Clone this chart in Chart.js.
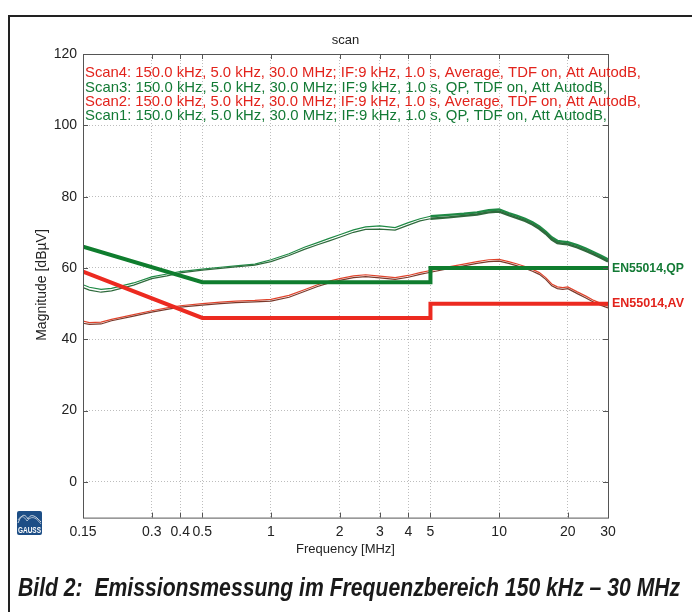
<!DOCTYPE html>
<html>
<head>
<meta charset="utf-8">
<script src="https://cdn.jsdelivr.net/npm/chart.js@4.4.1/dist/chart.umd.min.js"></script>
<style>
  html, body { margin: 0; padding: 0; background: #fff; }
  #wrap { position: relative; width: 692px; height: 612px; overflow: hidden; }
  #chart { position: absolute; left: 0; top: 0; }
  #frame { position: absolute; left: 8px; top: 15px; width: 720px; height: 640px;
           border-left: 2px solid #222; border-top: 2px solid #222; }
  #logo { position: absolute; left: 17px; top: 511px; width: 25px; height: 24px;
          background: #1d4e86; border-radius: 2px; overflow: hidden; }
  #logo span { position: absolute; left: -4px; right: -4px; bottom: 0px; text-align: center;
               font: bold 9px "Liberation Sans", sans-serif; color: #fff; transform: scaleX(0.72); }
  #caption { position: absolute; left: 18px; top: 573px; white-space: nowrap; transform-origin: 0 0;
             font: italic bold 25px "Liberation Sans", Arial, sans-serif; color: #1a1a1a; }
</style>
</head>
<body>
<div id="wrap">
  <canvas id="chart" width="692" height="612"></canvas>
  <div id="frame"></div>
  <div id="logo">
    <svg width="25" height="14" viewBox="0 0 25 14">
      <path d="M1 12 C5 2, 8 3, 11 8 C13 4, 16 2, 24 11" stroke="#fff" stroke-width="0.8" fill="none"/>
      <path d="M1 9 C4 4, 7 5, 10 10 C14 5, 18 5, 24 13" stroke="#fff" stroke-width="0.6" fill="none"/>
    </svg>
    <span>GAUSS</span>
  </div>
  <div id="caption">Bild 2:&nbsp; Emissionsmessung im Frequenzbereich 150 kHz – 30 MHz</div>
</div>
<script>
// --- Données ---
const freqs = [0.15, 0.16, 0.18, 0.2, 0.25, 0.3, 0.35, 0.4, 0.5, 0.6, 0.7, 0.85, 1.0, 1.2, 1.4, 1.6, 1.8, 2.0,
               2.3, 2.6, 3.0, 3.5, 4.0, 4.5, 5.0, 6, 7, 8, 9, 10, 11, 12, 13, 14, 15, 16, 17, 18, 19, 20,
               22, 24, 26, 28, 30];

const scan1 = [54.5, 53.8, 53.2, 53.6, 55.2, 57.0, 57.8, 58.6, 59.4, 59.9, 60.3, 60.8, 61.8, 63.5, 65.2, 66.5, 67.6, 68.6,
               70.0, 70.8, 70.9, 70.6, 72.0, 73.2, 73.8, 74.2, 74.6, 75.0, 75.6, 75.8, 74.8, 74.0, 73.2, 72.2, 71.0, 69.6, 68.0, 67.0, 66.8, 66.6,
               65.8, 64.8, 63.8, 62.8, 61.8];
const scan3 = [55.3, 54.6, 54.0, 54.3, 55.8, 57.5, 58.3, 59.0, 59.7, 60.2, 60.6, 61.1, 62.3, 64.0, 65.8, 67.1, 68.3, 69.3,
               70.7, 71.5, 71.8, 71.3, 72.7, 73.8, 74.5, 74.9, 75.2, 75.6, 76.2, 76.4, 75.4, 74.6, 73.8, 72.8, 71.6, 70.2, 68.6, 67.6, 67.4, 67.2,
               66.4, 65.4, 64.4, 63.4, 62.4];
const scan2 = [44.5, 44.2, 44.3, 45.2, 46.5, 47.6, 48.4, 49.0, 49.6, 50.0, 50.3, 50.5, 50.7, 51.8, 53.4, 54.8, 55.8, 56.5,
               57.3, 57.6, 57.2, 56.8, 57.4, 58.2, 58.8, 59.8, 60.6, 61.3, 61.8, 61.9, 61.3, 60.6, 59.9, 59.1, 58.2, 56.8, 55.0, 54.2, 54.0, 54.2,
               52.8, 51.6, 50.4, 49.5, 48.8];
const scan4 = [45.1, 44.7, 44.8, 45.6, 46.9, 48.0, 48.8, 49.4, 50.0, 50.4, 50.7, 50.9, 51.2, 52.3, 53.9, 55.3, 56.3, 57.0,
               57.8, 58.1, 57.7, 57.3, 57.9, 58.7, 59.3, 60.3, 61.1, 61.8, 62.3, 62.4, 61.8, 61.1, 60.4, 59.6, 58.7, 57.3, 55.5, 54.7, 54.5, 54.7,
               53.3, 52.1, 50.9, 50.0, 49.3];

const limitFreqs = [0.15, 0.5, 5, 5, 30];
const limitQP = [66, 56, 56, 60, 60];
const limitAV = [59, 46, 46, 50, 50];

const xTicks = [0.15, 0.3, 0.4, 0.5, 1, 2, 3, 4, 5, 10, 20, 30];
const yTicks = [0, 20, 40, 60, 80, 100, 120];

const legendLines = [
    'Scan4: 150.0 kHz, 5.0 kHz, 30.0 MHz; IF:9 kHz, 1.0 s, Average, TDF on, Att AutodB,',
    'Scan3: 150.0 kHz, 5.0 kHz, 30.0 MHz; IF:9 kHz, 1.0 s, QP, TDF on, Att AutodB,',
    'Scan2: 150.0 kHz, 5.0 kHz, 30.0 MHz; IF:9 kHz, 1.0 s, Average, TDF on, Att AutodB,',
    'Scan1: 150.0 kHz, 5.0 kHz, 30.0 MHz; IF:9 kHz, 1.0 s, QP, TDF on, Att AutodB,'
];

const RED = '#e2231c';
const GREEN = '#137a35';

function pts(xs, ys) {
    return xs.map((x, i) => ({ x: x, y: ys[i] }));
}

// au-dessus de 5 MHz la trace QP est bruitée : trait plus épais
const noisyQP = {
    borderWidth: c => (c.p0.parsed.x >= 5 ? 2.4 : 1.2)
};

// --- Textes et cadre façon MATLAB ---
const decorPlugin = {
    id: 'decor',
    afterDraw(chart) {
        const ctx = chart.ctx;
        const a = chart.chartArea;
        const xs = chart.scales.x;
        const ys = chart.scales.y;
        ctx.save();

        // cadre des axes + graduations
        ctx.strokeStyle = '#555';
        ctx.lineWidth = 1;
        ctx.strokeRect(a.left + 0.5, a.top + 0.5, a.right - a.left, a.bottom - a.top);
        ctx.beginPath();
        xTicks.forEach(v => {
            const px = Math.round(xs.getPixelForValue(v)) + 0.5;
            ctx.moveTo(px, a.bottom); ctx.lineTo(px, a.bottom - 5);
            ctx.moveTo(px, a.top); ctx.lineTo(px, a.top + 5);
        });
        yTicks.forEach(v => {
            const py = Math.round(ys.getPixelForValue(v)) + 0.5;
            ctx.moveTo(a.left, py); ctx.lineTo(a.left + 5, py);
            ctx.moveTo(a.right, py); ctx.lineTo(a.right - 5, py);
        });
        ctx.stroke();

        const cx = (a.left + a.right) / 2;
        ctx.fillStyle = '#222';
        ctx.textAlign = 'center';
        ctx.textBaseline = 'middle';
        ctx.font = '13px "Liberation Sans", Arial, sans-serif';
        ctx.fillText('scan', cx, 40);
        ctx.fillText('Frequency [MHz]', cx, 549);

        ctx.save();
        ctx.translate(42, 285);
        ctx.rotate(-Math.PI / 2);
        ctx.font = '14px "Liberation Sans", Arial, sans-serif';
        ctx.fillText('Magnitude [dBµV]', 0, 0);
        ctx.restore();

        // légende des scans
        ctx.textAlign = 'left';
        ctx.font = '15px "Liberation Sans", Arial, sans-serif';
        legendLines.forEach((t, i) => {
            ctx.fillStyle = (i % 2 === 0) ? RED : GREEN;
            const w = ctx.measureText(t).width;
            const target = t.indexOf('Average') > 0 ? 556 : 522;
            ctx.save();
            ctx.translate(85, 73 + i * 14.4);
            ctx.scale(target / w, 1);
            ctx.fillText(t, 0, 0);
            ctx.restore();
        });

        // étiquettes des limites
        ctx.font = 'bold 13px "Liberation Sans", Arial, sans-serif';
        [['EN55014,QP', GREEN, limitQP[4]], ['EN55014,AV', RED, limitAV[4]]].forEach(l => {
            ctx.fillStyle = l[1];
            const w = ctx.measureText(l[0]).width;
            ctx.save();
            ctx.translate(a.right + 4, ys.getPixelForValue(l[2]));
            ctx.scale(72 / w, 1);
            ctx.fillText(l[0], 0, 0);
            ctx.restore();
        });
        ctx.restore();
    }
};

const ctxChart = document.getElementById('chart').getContext('2d');
new Chart(ctxChart, {
    type: 'scatter',
    data: {
        datasets: [
            { label: 'EN55014,QP', data: pts(limitFreqs, limitQP), borderColor: '#0f7d2e', borderWidth: 4 },
            { label: 'EN55014,AV', data: pts(limitFreqs, limitAV), borderColor: '#ec2a20', borderWidth: 4 },
            { label: 'Scan1', data: pts(freqs, scan1), borderColor: '#2f6a3c', borderWidth: 1.2, segment: noisyQP },
            { label: 'Scan3', data: pts(freqs, scan3), borderColor: '#1f8a45', borderWidth: 1.2, segment: noisyQP },
            { label: 'Scan2', data: pts(freqs, scan2), borderColor: '#7a3a2c', borderWidth: 1.2 },
            { label: 'Scan4', data: pts(freqs, scan4), borderColor: '#e0442c', borderWidth: 1.2 }
        ].map(d => Object.assign(d, { showLine: true, pointRadius: 0, tension: 0, fill: false }))
    },
    options: {
        responsive: false,
        animation: false,
        layout: { padding: { left: 0, top: 54, right: 84, bottom: 54.4 } },
        plugins: { legend: { display: false }, tooltip: { enabled: false } },
        scales: {
            x: {
                type: 'logarithmic',
                min: 0.15,
                max: 30,
                afterBuildTicks: scale => { scale.ticks = xTicks.map(v => ({ value: v })); },
                afterFit: scale => { scale.height = 40; },
                ticks: {
                    callback: v => String(v),
                    autoSkip: false,
                    maxRotation: 0,
                    padding: 6,
                    color: '#222',
                    font: { family: '"Liberation Sans", Arial, sans-serif', size: 14 }
                },
                grid: { color: '#bdbdbd', drawTicks: false, lineWidth: 1 },
                border: { display: false, dash: [1, 2] }
            },
            y: {
                min: -10,
                max: 120,
                afterBuildTicks: scale => { scale.ticks = yTicks.map(v => ({ value: v })); },
                afterFit: scale => { scale.width = 83; },
                ticks: {
                    padding: 6,
                    color: '#222',
                    font: { family: '"Liberation Sans", Arial, sans-serif', size: 14 }
                },
                grid: { color: '#bdbdbd', drawTicks: false, lineWidth: 1 },
                border: { display: false, dash: [1, 2] }
            }
        }
    },
    plugins: [decorPlugin]
});

// la légende du bas est plus étroite dans l'original
const caption = document.getElementById('caption');
caption.style.transform = 'scaleX(' + (662 / caption.offsetWidth) + ')';
</script>
</body>
</html>
